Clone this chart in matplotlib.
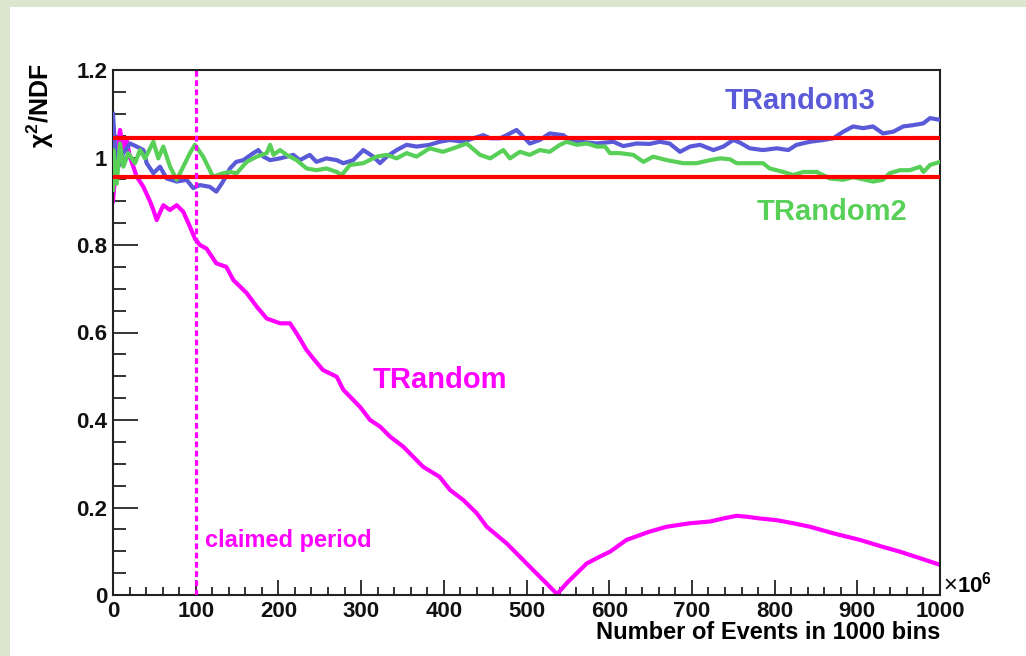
import numpy as np
import matplotlib.pyplot as plt
from matplotlib.patches import Rectangle

# TRandom (magenta)
tr1_x = [0, 4.5, 8.5, 12.5, 16.5, 20.6, 24.6, 28.7, 36.7, 44.7, 48.8, 52.8, 60.8, 68.9, 77, 85, 93, 99,
         105, 113, 125, 137, 145.5, 161.7, 173.8, 185.9, 202, 214, 222, 234, 242, 254, 270.5, 278.5,
         298.7, 310.8, 322.9, 335, 351, 363, 375, 395, 407.5, 423.6, 439.8, 451.9, 476, 492, 508, 524,
         537, 548.6, 572.7, 589, 601, 621, 649, 669.5, 697.7, 722, 738, 754, 766, 782, 802.5, 822.6,
         842.8, 871, 903, 931, 951.6, 976, 1000]
tr1_y = [0.90, 1.0, 1.063, 1.017, 1.04, 1.0, 0.979, 0.956, 0.933, 0.90, 0.88, 0.857, 0.891, 0.88, 0.891,
         0.876, 0.842, 0.815, 0.80, 0.792, 0.758, 0.75, 0.72, 0.69, 0.659, 0.632, 0.621, 0.621, 0.598,
         0.56, 0.541, 0.514, 0.499, 0.469, 0.43, 0.40, 0.385, 0.362, 0.339, 0.316, 0.293, 0.27, 0.24,
         0.217, 0.187, 0.156, 0.118, 0.0875, 0.057, 0.027, 0.002, 0.027, 0.072, 0.088, 0.099, 0.126,
         0.145, 0.156, 0.164, 0.168, 0.175, 0.181, 0.179, 0.175, 0.171, 0.164, 0.156, 0.141, 0.126,
         0.11, 0.099, 0.084, 0.069]

# TRandom3 (blue)
tr3_x = [0, 2.4, 6.4, 12.5, 20.6, 28.7, 36.7, 40.7, 48.8, 56.8, 64.9, 77, 89, 97, 105, 117, 125, 133,
         141.5, 149, 157.6, 169.7, 175.7, 181.8, 190, 202, 218, 226, 238, 246, 258, 270.5, 278.5, 290.6,
         302.7, 314.8, 322.9, 331, 343, 355, 367, 383, 395, 407.5, 423.6, 435.7, 447.8, 456, 468, 476,
         488, 496, 504, 516, 528, 544.5, 552.6, 564.7, 585, 605, 617, 633, 649, 661, 673, 685.6, 697.7,
         709.8, 726, 738, 750, 758, 770, 786, 802.5, 816.5, 826.6, 842.8, 859, 871, 883, 895, 907, 919,
         931, 943.5, 955.6, 967.7, 979.8, 988, 1000]
tr3_y = [1.10, 1.025, 0.979, 1.01, 1.032, 1.025, 1.017, 0.987, 0.964, 0.979, 0.952, 0.945, 0.949, 0.93,
         0.937, 0.933, 0.922, 0.945, 0.975, 0.99, 0.994, 1.01, 1.017, 1.002, 0.994, 0.998, 1.006, 0.994,
         1.006, 0.99, 0.998, 0.994, 0.987, 0.994, 1.017, 1.002, 0.987, 1.002, 1.017, 1.029, 1.025, 1.029,
         1.036, 1.04, 1.036, 1.044, 1.051, 1.044, 1.044, 1.051, 1.063, 1.048, 1.032, 1.04, 1.055, 1.051,
         1.04, 1.036, 1.032, 1.036, 1.026, 1.032, 1.031, 1.036, 1.032, 1.013, 1.025, 1.029, 1.017, 1.025,
         1.04, 1.034, 1.021, 1.017, 1.021, 1.017, 1.029, 1.036, 1.04, 1.044, 1.059, 1.071, 1.067, 1.071,
         1.055, 1.059, 1.071, 1.074, 1.078, 1.09, 1.086]

# TRandom2 (green)
tr2_x = [0, 0.4, 4.5, 8.5, 12.5, 18.5, 26.6, 32.6, 38.7, 48.8, 54.8, 60.8, 69, 77, 85, 93, 99, 109, 121,
         133, 141.5, 149.5, 161.7, 173.8, 185.9, 190, 194, 202, 210, 222, 234, 246, 258, 270.5, 276.5,
         286.6, 302.7, 318.8, 331, 343, 355, 367, 383, 399, 411.5, 427.7, 443.8, 456, 472, 480, 492, 504,
         516, 528, 540.5, 548.6, 560.7, 573, 585, 595, 601, 613, 629, 641.5, 653, 669.5, 689.5, 705.7,
         722, 734, 746, 754, 770, 786, 794, 810.5, 822.6, 834.7, 850.8, 867, 883, 895, 907, 919, 931,
         939, 951.6, 963.7, 975.8, 980, 988, 1000]
tr2_y = [0.926, 1.017, 0.94, 1.032, 0.979, 1.01, 0.987, 1.017, 0.998, 1.036, 0.998, 1.025, 0.979, 0.949,
         0.979, 1.01, 1.029, 1.002, 0.956, 0.964, 0.967, 0.964, 0.99, 1.002, 1.01, 1.029, 1.006, 1.017,
         1.006, 0.994, 0.975, 0.971, 0.975, 0.967, 0.96, 0.983, 0.987, 1.002, 1.006, 0.998, 1.01, 1.002,
         1.021, 1.013, 1.021, 1.032, 1.006, 0.998, 1.017, 0.998, 1.013, 1.006, 1.017, 1.013, 1.029, 1.036,
         1.029, 1.032, 1.025, 1.025, 1.01, 1.01, 1.006, 0.99, 1.002, 0.994, 0.987, 0.987, 0.994, 0.998,
         0.996, 0.987, 0.987, 0.987, 0.975, 0.967, 0.96, 0.967, 0.967, 0.952, 0.949, 0.955, 0.95, 0.945,
         0.949, 0.964, 0.971, 0.971, 0.979, 0.967, 0.983, 0.99]

band = [0.9565, 1.0445]
period = 100

plt.rcParams['font.family'] = ['Liberation Sans', 'DejaVu Sans']
plt.rcParams['font.weight'] = 'bold'
plt.rcParams['mathtext.fontset'] = 'custom'
plt.rcParams['mathtext.rm'] = 'Liberation Sans:bold'

fig = plt.figure(figsize=(10.26, 6.56), dpi=100)
fig.patch.set_facecolor('#dce5cd')
fig.patches.append(Rectangle((10 / 1026, 0), 1, 1 - 7 / 656, transform=fig.transFigure,
                             facecolor='white', edgecolor='none', zorder=-5))

ax = fig.add_axes([113 / 1026, 1 - 595 / 656, 827 / 1026, 525 / 656])
ax.set_facecolor('white')

ax.plot(tr1_x, tr1_y, color='#ff00ff', lw=3, zorder=2)
ax.plot(tr3_x, tr3_y, color='#5a5ad8', lw=3, zorder=3)
ax.plot(tr2_x, tr2_y, color='#58d058', lw=3, zorder=4)
for b in band:
    ax.plot([0, 1000], [b, b], color='#ff0000', lw=3, zorder=5)
ax.plot([period, period], [0, 1.2], color='#ff00ff', lw=2.3, linestyle=(0, (1.8, 1.1)), zorder=6)

ax.set_xlim(0, 1000)
ax.set_ylim(0, 1.2)
ax.set_xticks(np.arange(0, 1001, 100))
ax.set_xticks(np.arange(0, 1001, 20), minor=True)
ax.set_yticks(np.arange(0, 1.21, 0.2))
ax.set_yticks(np.arange(0, 1.21, 0.05), minor=True)
ax.set_yticklabels(['0', '0.2', '0.4', '0.6', '0.8', '1', '1.2'])

ax.tick_params(axis='both', which='both', direction='in', top=False, right=False,
               labelsize=16, colors='#111111', width=1.2, pad=4)
ax.tick_params(axis='x', which='major', length=11)
ax.tick_params(axis='x', which='minor', length=6)
ax.tick_params(axis='y', which='major', length=18)
ax.tick_params(axis='y', which='minor', length=9)
for lab in ax.get_xticklabels() + ax.get_yticklabels():
    lab.set_fontweight('bold')
for s in ax.spines.values():
    s.set_linewidth(1.5)
    s.set_color('#222222')

fig.text(940 / 1026, 1 - 621 / 656, 'Number of Events in 1000 bins', ha='right', va='top',
         fontsize=17, fontweight='bold')
fig.text(40 / 1026, 1 - 64 / 656, r'χ$^{\mathrm{2}}$/NDF', rotation=90, ha='center', va='top',
         fontsize=18, fontweight='bold')
fig.text(943 / 1026, 1 - 597 / 656, '×', ha='left', va='bottom', fontsize=17, fontweight='normal')
fig.text(957 / 1026, 1 - 597 / 656, r'10$^{\mathrm{6}}$', ha='left', va='bottom', fontsize=16,
         fontweight='bold')

fig.text(725 / 1026, 1 - 101 / 656, 'TRandom3', color='#5a5ad8', fontsize=21, fontweight='bold',
         ha='left', va='center')
fig.text(757 / 1026, 1 - 212 / 656, 'TRandom2', color='#58d058', fontsize=21, fontweight='bold',
         ha='left', va='center')
fig.text(373 / 1026, 1 - 380 / 656, 'TRandom', color='#ff00ff', fontsize=21, fontweight='bold',
         ha='left', va='center')
fig.text(205 / 1026, 1 - 540 / 656, 'claimed period', color='#ff00ff', fontsize=17, fontweight='bold',
         ha='left', va='center')

fig.savefig('out.png', dpi=100)
